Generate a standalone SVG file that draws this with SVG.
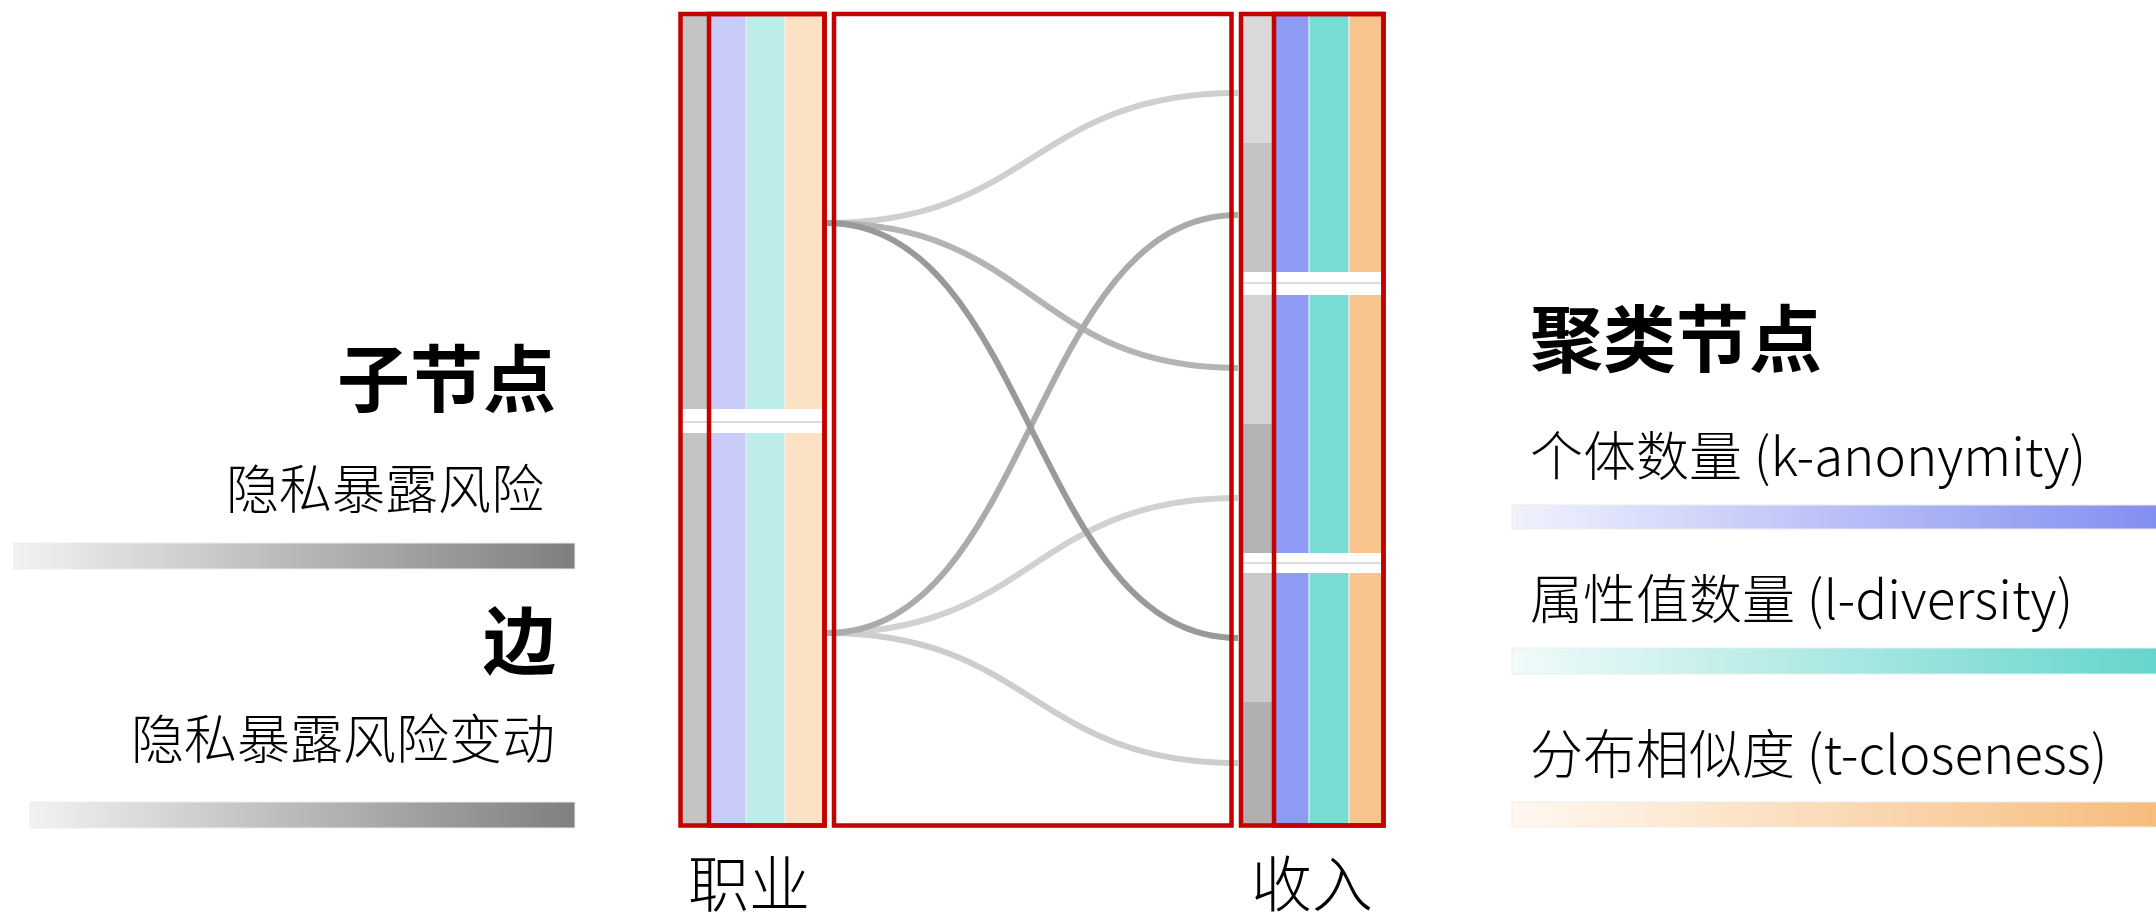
<svg xmlns="http://www.w3.org/2000/svg" width="2156" height="918" viewBox="0 0 2156 918">
<defs>
<linearGradient id="gGrey" x1="0" y1="0" x2="1" y2="0"><stop offset="0" stop-color="#f2f2f2"/><stop offset="1" stop-color="#7f7f7f"/></linearGradient>
<linearGradient id="gBlue" x1="0" y1="0" x2="1" y2="0"><stop offset="0" stop-color="#f1f2fd"/><stop offset="1" stop-color="#828ef0"/></linearGradient>
<linearGradient id="gCyan" x1="0" y1="0" x2="1" y2="0"><stop offset="0" stop-color="#f1fbfa"/><stop offset="1" stop-color="#64d5cb"/></linearGradient>
<linearGradient id="gOrange" x1="0" y1="0" x2="1" y2="0"><stop offset="0" stop-color="#fff8f1"/><stop offset="1" stop-color="#f6bc7c"/></linearGradient>
<style>
.t{font-family:"Noto Sans CJK SC","Noto Sans",sans-serif;fill:#000}
.h{font-size:73px;font-weight:700}
.s{font-size:53px;font-weight:300}
.ax{font-size:61px;font-weight:300}
.red{fill:none;stroke:#c40000;stroke-width:4.5}
.edge{fill:none;stroke-width:6;stroke-linecap:butt}
.gap{fill:#fff}
.sep{stroke:#dcdcdc;stroke-width:2}
.bar{stroke:#ececec;stroke-width:1}
</style>
</defs>
<rect width="2156" height="918" fill="#fff"/>

<g id="legend-left">
<text class="t h" x="556" y="406" text-anchor="end">子节点</text>
<text class="t s" x="544" y="509" text-anchor="end">隐私暴露风险</text>
<rect class="bar" x="14" y="543" width="561" height="26" fill="url(#gGrey)"/>
<text class="t h" x="556" y="668" text-anchor="end">边</text>
<text class="t s" x="555" y="759" text-anchor="end">隐私暴露风险变动</text>
<rect class="bar" x="30" y="802" width="545" height="26" fill="url(#gGrey)"/>
</g>

<g id="legend-right">
<text class="t h" x="1530" y="366">聚类节点</text>
<text class="t s" x="1530" y="476">个体数量 (k-anonymity)</text>
<rect class="bar" x="1512" y="505" width="650" height="24" fill="url(#gBlue)"/>
<text class="t s" x="1530" y="619">属性值数量 (l-diversity)</text>
<rect class="bar" x="1512" y="648" width="650" height="26" fill="url(#gCyan)"/>
<text class="t s" x="1530" y="774">分布相似度 (t-closeness)</text>
<rect class="bar" x="1512" y="802" width="650" height="25" fill="url(#gOrange)"/>
</g>

<g id="connectors">
<path class="edge" stroke="#cfcfcf" d="M826,223 C1032,223 1032,93 1238,93"/>
<path class="edge" stroke="#d1d1d1" d="M826,633 C1032,633 1032,498 1238,498"/>
<path class="edge" stroke="#cdcdcd" d="M826,633 C1032,633 1032,763 1238,763"/>
<path class="edge" stroke="#b4b4b4" d="M826,223 C1032,223 1032,368 1238,368"/>
<path class="edge" stroke="#ababab" d="M826,633 C1032,633 1032,215 1238,215"/>
<path class="edge" stroke="#999999" d="M826,223 C1032,223 1032,638 1238,638"/>
</g>

<g id="node-occupation">
<rect x="681" y="16" width="28" height="808" fill="#c4c4c4"/>
<rect x="709" y="16" width="37" height="808" fill="#c9ccf9"/>
<rect x="746" y="16" width="39" height="808" fill="#bcede8"/>
<rect x="785" y="16" width="38" height="808" fill="#fce1c4"/>
<line x1="746" y1="16" x2="746" y2="824" stroke="#e6e6f4" stroke-width="1.5"/>
<line x1="785" y1="16" x2="785" y2="824" stroke="#eef0ee" stroke-width="1.5"/>
<rect class="gap" x="681" y="409" width="142" height="24"/>
<line class="sep" x1="681" y1="422" x2="823" y2="422"/>
<rect class="red" x="680.5" y="14" width="144" height="811.5"/>
<rect class="red" x="709" y="14" width="115.5" height="811.5"/>
<text class="t ax" x="688" y="907">职业</text>
</g>

<g id="node-middle">
<rect class="red" x="834" y="14" width="397.5" height="811.5"/>
</g>

<g id="node-income">
<rect x="1242" y="16" width="32" height="127" fill="#d9d9d9"/>
<rect x="1242" y="143" width="32" height="129" fill="#c4c4c4"/>
<rect x="1242" y="295" width="32" height="129" fill="#d3d3d3"/>
<rect x="1242" y="424" width="32" height="129" fill="#b3b3b3"/>
<rect x="1242" y="573" width="32" height="129" fill="#cacaca"/>
<rect x="1242" y="702" width="32" height="122" fill="#b0b0b0"/>
<rect x="1274" y="16" width="35" height="808" fill="#8f9af5"/>
<rect x="1309" y="16" width="40" height="808" fill="#79dcd4"/>
<rect x="1349" y="16" width="34" height="808" fill="#f7c48e"/>
<line x1="1309" y1="16" x2="1309" y2="824" stroke="#c8ecef" stroke-width="1.5"/>
<line x1="1349" y1="16" x2="1349" y2="824" stroke="#e6efe8" stroke-width="1.5"/>
<rect class="gap" x="1242" y="272" width="141" height="23"/>
<line class="sep" x1="1242" y1="283" x2="1383" y2="283"/>
<rect class="gap" x="1242" y="553" width="141" height="20"/>
<line class="sep" x1="1242" y1="563" x2="1383" y2="563"/>
<rect class="red" x="1241" y="14" width="142.5" height="811.5"/>
<rect class="red" x="1274" y="14" width="109.5" height="811.5"/>
<text class="t ax" x="1251" y="907">收入</text>
</g>
</svg>
